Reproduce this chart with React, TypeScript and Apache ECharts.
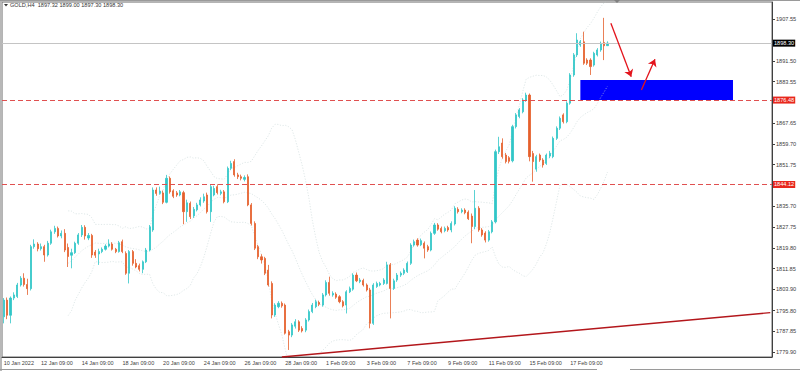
import React, { useEffect, useRef } from 'react';
import * as echarts from 'echarts';

// [open, high, low, close] per H4 bar
const ohlc: number[][] = [
  [1793.4, 1800.6, 1790.9, 1799.8], [1799.8, 1800.8, 1792.5, 1794.0], [1794.0, 1801.2, 1790.9, 1800.6], [1800.6, 1802.8, 1799.8, 1801.8],
  [1801.2, 1806.4, 1800.6, 1805.6], [1805.6, 1809.0, 1805.0, 1808.2], [1808.2, 1810.1, 1805.0, 1805.8], [1805.8, 1808.0, 1801.8, 1804.2],
  [1804.2, 1821.0, 1803.5, 1820.3], [1820.3, 1823.1, 1819.5, 1821.3], [1821.3, 1822.0, 1818.5, 1819.5], [1819.5, 1821.5, 1818.8, 1820.3],
  [1820.3, 1821.0, 1814.5, 1817.1], [1817.1, 1822.5, 1816.5, 1821.6], [1821.6, 1826.8, 1821.0, 1826.0], [1826.0, 1828.3, 1825.2, 1827.3],
  [1827.3, 1828.0, 1823.8, 1824.4], [1824.4, 1826.5, 1823.5, 1825.4], [1825.4, 1827.0, 1818.2, 1819.0], [1820.0, 1821.5, 1812.5, 1816.5],
  [1817.0, 1819.5, 1812.0, 1818.0], [1818.0, 1822.2, 1817.5, 1821.6], [1821.6, 1825.5, 1821.0, 1824.8], [1824.8, 1828.6, 1824.0, 1827.7],
  [1827.7, 1828.5, 1823.0, 1824.4], [1823.6, 1825.5, 1822.8, 1824.6], [1824.6, 1825.2, 1816.0, 1817.1], [1818.2, 1819.0, 1816.0, 1817.0],
  [1817.5, 1819.5, 1813.3, 1818.4], [1818.4, 1820.0, 1817.8, 1819.3], [1819.3, 1821.2, 1818.8, 1820.5], [1820.5, 1823.1, 1820.0, 1821.3],
  [1821.3, 1822.0, 1818.8, 1819.3], [1819.3, 1819.8, 1817.8, 1818.4], [1818.4, 1822.5, 1818.0, 1821.8], [1822.2, 1823.0, 1817.8, 1818.4],
  [1817.7, 1818.5, 1809.5, 1810.1], [1810.1, 1819.0, 1806.2, 1818.4], [1818.4, 1819.0, 1813.0, 1813.9], [1813.9, 1815.5, 1812.0, 1812.5],
  [1813.0, 1813.8, 1810.8, 1811.6], [1811.6, 1815.0, 1810.1, 1814.5], [1814.5, 1819.8, 1814.0, 1819.0], [1819.0, 1828.6, 1818.5, 1827.9],
  [1826.7, 1843.0, 1826.0, 1842.0], [1842.0, 1843.0, 1839.8, 1840.7], [1840.7, 1843.3, 1840.2, 1841.6], [1840.9, 1841.8, 1836.6, 1837.3],
  [1837.3, 1847.8, 1836.9, 1846.5], [1846.5, 1847.2, 1840.6, 1841.3], [1841.7, 1842.3, 1838.9, 1839.6], [1840.9, 1841.6, 1839.4, 1840.1],
  [1840.1, 1842.0, 1839.6, 1841.3], [1841.0, 1841.7, 1828.9, 1833.7], [1833.7, 1838.3, 1829.8, 1837.1], [1836.9, 1837.6, 1830.9, 1831.8],
  [1832.1, 1835.5, 1831.3, 1834.6], [1834.4, 1837.1, 1833.8, 1836.3], [1836.3, 1839.2, 1835.7, 1838.2], [1837.8, 1840.6, 1837.1, 1839.4],
  [1840.1, 1841.0, 1833.0, 1833.7], [1833.7, 1844.0, 1829.8, 1843.3], [1840.1, 1843.6, 1839.6, 1842.6], [1843.3, 1844.2, 1840.3, 1841.0],
  [1840.7, 1842.1, 1840.0, 1841.3], [1841.3, 1842.0, 1836.9, 1837.5], [1837.5, 1851.0, 1837.0, 1850.3], [1850.3, 1853.2, 1849.6, 1852.2],
  [1852.9, 1853.8, 1847.1, 1847.8], [1847.8, 1848.6, 1846.2, 1847.1], [1847.1, 1847.9, 1845.7, 1846.5], [1846.1, 1847.6, 1845.3, 1846.8],
  [1847.1, 1848.0, 1835.8, 1836.3], [1836.3, 1837.0, 1828.4, 1829.2], [1829.2, 1830.0, 1819.0, 1819.7], [1820.3, 1821.0, 1815.5, 1816.4],
  [1816.4, 1817.4, 1813.8, 1815.2], [1815.8, 1816.4, 1809.4, 1810.1], [1811.3, 1813.3, 1805.0, 1805.6], [1806.2, 1807.0, 1792.8, 1794.1],
  [1794.1, 1798.6, 1793.4, 1797.9], [1797.3, 1799.4, 1796.7, 1798.6], [1798.6, 1799.3, 1796.9, 1797.6], [1797.9, 1798.5, 1786.6, 1787.1],
  [1787.7, 1788.4, 1780.7, 1786.4], [1786.4, 1791.0, 1785.6, 1790.3], [1789.8, 1792.5, 1788.9, 1791.5], [1791.5, 1792.1, 1787.6, 1788.3],
  [1788.9, 1789.8, 1787.4, 1788.0], [1788.3, 1792.9, 1787.5, 1792.2], [1792.2, 1796.2, 1791.6, 1795.4], [1795.4, 1798.7, 1794.8, 1797.9],
  [1797.3, 1800.0, 1796.7, 1799.2], [1798.9, 1799.6, 1797.5, 1798.2], [1797.9, 1802.5, 1797.3, 1801.8], [1801.8, 1807.4, 1801.2, 1806.6],
  [1806.6, 1808.8, 1801.5, 1802.4], [1801.8, 1803.2, 1801.1, 1802.4], [1802.1, 1802.8, 1800.3, 1800.9], [1801.1, 1801.7, 1798.6, 1799.2],
  [1799.2, 1799.8, 1797.0, 1797.6], [1797.9, 1803.6, 1794.7, 1803.0], [1803.0, 1805.0, 1802.5, 1804.3], [1804.0, 1810.1, 1803.4, 1809.4],
  [1809.4, 1810.4, 1806.7, 1807.2], [1806.9, 1808.3, 1806.3, 1807.5], [1807.3, 1808.0, 1805.0, 1805.6], [1805.6, 1806.2, 1803.1, 1803.7],
  [1803.7, 1804.5, 1789.0, 1790.9], [1790.9, 1806.3, 1790.3, 1805.6], [1805.0, 1806.9, 1804.5, 1806.2], [1805.6, 1806.8, 1805.1, 1806.2],
  [1806.2, 1808.2, 1805.6, 1807.5], [1806.2, 1814.5, 1805.8, 1813.3], [1813.3, 1814.0, 1792.8, 1804.3], [1804.3, 1808.0, 1803.7, 1807.2],
  [1807.5, 1810.2, 1806.8, 1809.4], [1809.4, 1810.8, 1808.7, 1810.1], [1810.1, 1812.0, 1809.4, 1811.3], [1810.7, 1814.6, 1810.2, 1813.9],
  [1813.9, 1821.6, 1813.3, 1820.9], [1820.9, 1823.0, 1820.3, 1822.2], [1822.8, 1823.5, 1820.3, 1820.9], [1821.0, 1823.4, 1820.5, 1822.6],
  [1821.6, 1822.3, 1815.8, 1819.7], [1820.3, 1821.0, 1818.3, 1819.0], [1819.0, 1826.1, 1818.5, 1825.4], [1825.4, 1829.4, 1824.8, 1828.6],
  [1828.6, 1829.3, 1826.4, 1827.0], [1827.3, 1828.0, 1825.4, 1826.0], [1826.4, 1828.0, 1825.8, 1827.3], [1827.6, 1828.3, 1826.0, 1826.7],
  [1826.7, 1830.0, 1825.8, 1829.2], [1829.0, 1835.8, 1828.4, 1835.0], [1834.6, 1835.4, 1833.0, 1833.7], [1833.7, 1835.0, 1833.1, 1834.3],
  [1834.3, 1835.0, 1832.7, 1833.3], [1833.5, 1834.2, 1830.5, 1831.0], [1832.0, 1833.0, 1821.6, 1828.0], [1828.0, 1842.0, 1827.0, 1835.0],
  [1835.0, 1835.8, 1826.0, 1826.7], [1826.7, 1827.4, 1824.1, 1824.8], [1825.5, 1826.2, 1821.9, 1822.8], [1822.8, 1826.7, 1822.2, 1826.0],
  [1826.0, 1830.5, 1825.4, 1829.8], [1829.8, 1857.5, 1829.2, 1856.7], [1856.7, 1862.4, 1855.8, 1858.6], [1860.0, 1861.8, 1854.0, 1854.8],
  [1855.4, 1856.2, 1852.2, 1852.9], [1854.4, 1855.0, 1852.2, 1853.0], [1853.2, 1867.0, 1852.6, 1866.3], [1866.3, 1871.5, 1865.6, 1870.8],
  [1870.2, 1873.4, 1869.5, 1872.7], [1872.0, 1877.2, 1871.4, 1876.5], [1876.5, 1879.3, 1875.8, 1878.4], [1878.4, 1879.0, 1853.0, 1854.8],
  [1856.0, 1857.0, 1845.2, 1852.9], [1850.0, 1855.5, 1849.0, 1854.8], [1855.4, 1856.0, 1852.8, 1853.5], [1853.5, 1854.2, 1850.6, 1851.6],
  [1852.2, 1856.0, 1851.6, 1855.4], [1855.0, 1857.0, 1854.2, 1856.1], [1854.8, 1862.5, 1854.2, 1861.8], [1861.8, 1866.4, 1861.2, 1865.7],
  [1865.7, 1870.2, 1865.0, 1869.5], [1870.8, 1871.4, 1867.5, 1868.2], [1868.2, 1876.0, 1867.6, 1875.3], [1875.3, 1886.8, 1874.7, 1886.1],
  [1886.1, 1894.5, 1885.4, 1893.8], [1893.8, 1902.1, 1893.0, 1899.5], [1897.6, 1899.5, 1896.9, 1898.8], [1898.8, 1902.7, 1890.0, 1890.6],
  [1891.8, 1892.5, 1889.9, 1890.6], [1891.8, 1892.5, 1886.1, 1889.3], [1889.9, 1895.0, 1889.3, 1894.4], [1893.8, 1896.4, 1893.2, 1895.7],
  [1895.7, 1898.9, 1895.0, 1898.2], [1898.5, 1908.0, 1891.8, 1897.3], [1897.32, 1899.0, 1897.3, 1898.3],
];

const slotCount = 227;
const categories = Array.from({ length: slotCount }, (_, i) => String(i));
const tickIndices = [0, 11, 23, 35, 47, 59, 71, 83, 95, 107, 119, 131, 143, 155, 167];
const tickLabels = ['10 Jan 2022', '12 Jan 09:00', '14 Jan 09:00', '18 Jan 09:00', '20 Jan 09:00', '24 Jan 09:00',
  '26 Jan 09:00', '28 Jan 09:00', '1 Feb 09:00', '3 Feb 09:00', '7 Feb 09:00', '9 Feb 09:00', '11 Feb 09:00',
  '15 Feb 09:00', '17 Feb 09:00'];
// scale labels not hidden behind the coloured price boxes
const priceLabels = [1907.55, 1891.5, 1883.55, 1867.65, 1859.7, 1851.75, 1835.7, 1827.75,
  1819.8, 1811.85, 1803.9, 1795.8, 1787.85, 1779.9];
const levelPrices = [1876.48, 1844.12];
const bidPrice = 1898.3;
const zoneStart = [170, 1884.2];
const zoneEnd = [215, 1876.48];
const arrowDown = [[179, 1905.9], [185, 1885.4]];
const arrowUp = [[188, 1880.3], [192, 1892.1]];
const trendLine = [[82, 1778.0], [226, 1795.0]];
const header = 'GOLD,H4  1897.32 1899.00 1897.30 1898.30';

const UP = '#31c6c8';
const DOWN = '#e5602c';
const FONT = 'Liberation Sans';

function bollinger(period: number, dev: number) {
  const closes = ohlc.map((r) => r[3]);
  const mid: (number | null)[] = [], up: (number | null)[] = [], lo: (number | null)[] = [];
  closes.forEach((_, i) => {
    if (i < period - 1) { mid.push(null); up.push(null); lo.push(null); return; }
    const w = closes.slice(i - period + 1, i + 1);
    const m = w.reduce((a, b) => a + b, 0) / period;
    const sd = Math.sqrt(w.reduce((a, b) => a + (b - m) * (b - m), 0) / period);
    mid.push(+m.toFixed(2)); up.push(+(m + dev * sd).toFixed(2)); lo.push(+(m - dev * sd).toFixed(2));
  });
  return { mid, up, lo };
}

export default function App() {
  const ref = useRef<HTMLDivElement>(null);
  useEffect(() => {
    if (!ref.current) return;
    const chart = echarts.init(ref.current, undefined, { renderer: 'svg' });
    const bb = bollinger(20, 2);
    const bbLine = (name: string, data: (number | null)[]) => ({
      name, type: 'line', data, symbol: 'none', silent: true, connectNulls: false,
      lineStyle: { color: '#c9d6d9', width: 0.6, type: [1.2, 1.6] }, z: 1,
    });
    const tickSet = new Set(tickIndices);
    chart.setOption({
      animation: false,
      backgroundColor: '#ffffff',
      grid: { left: 2, right: 28, top: 2, bottom: 14, show: true, borderColor: '#6a6a6a', borderWidth: 1 },
      xAxis: {
        type: 'category', data: categories, boundaryGap: true,
        axisLine: { lineStyle: { color: '#404040', width: 1 } },
        axisTick: { alignWithLabel: true, length: 3, interval: (i: number) => tickSet.has(i), lineStyle: { color: '#404040' } },
        axisLabel: {
          interval: (i: number) => tickSet.has(i), align: 'left', margin: 3, fontSize: 5.5, fontFamily: FONT, color: '#404040',
          formatter: (v: string) => { const k = tickIndices.indexOf(Number(v)); return k >= 0 ? tickLabels[k] : ''; },
        },
        splitLine: { show: false },
      },
      yAxis: {
        type: 'value', position: 'right', min: 1778.0, max: 1914.07, scale: true,
        axisLine: { show: true, lineStyle: { color: '#404040' } },
        axisTick: { show: true, length: 3, customValues: priceLabels, lineStyle: { color: '#404040' } },
        axisLabel: { customValues: priceLabels, margin: 4, fontSize: 5.6, fontFamily: FONT, color: '#404040', formatter: (v: number) => v.toFixed(2) },
        splitLine: { show: false },
      },
      series: [
        bbLine('BB upper', bb.up), bbLine('BB middle', bb.mid), bbLine('BB lower', bb.lo),
        {
          name: 'GOLD,H4', type: 'candlestick', barWidth: 1.6, z: 3,
          data: ohlc.map((r) => [r[0], r[3], r[2], r[1]]),
          itemStyle: { color: UP, color0: DOWN, borderColor: UP, borderColor0: DOWN, borderWidth: 0.8 },
          markArea: {
            silent: true, itemStyle: { color: '#0000ff', opacity: 1 },
            data: [[{ coord: zoneStart }, { coord: zoneEnd }]],
          },
        },
        {
          type: 'line', data: [], z: 4,
          markLine: {
            silent: true, symbol: ['none', 'none'], animation: false,
            data: [
              ...levelPrices.map((p) => ({
                yAxis: p,
                lineStyle: { color: '#e05050', width: 1, type: [5, 3] },
                label: { show: true, position: 'end', distance: 1, formatter: p.toFixed(2), color: '#fff', backgroundColor: '#e8271d', padding: [1, 1, 0, 1], fontSize: 5.6, fontFamily: FONT },
              })),
              {
                yAxis: bidPrice,
                lineStyle: { color: '#c4c4c4', width: 1, type: 'solid' },
                label: { show: true, position: 'end', distance: 1, formatter: bidPrice.toFixed(2), color: '#fff', backgroundColor: '#000', padding: [1, 1, 0, 1], fontSize: 5.6, fontFamily: FONT },
              },
              [{ coord: trendLine[0], lineStyle: { color: '#b3161b', width: 1.4, type: 'solid' }, label: { show: false } }, { coord: trendLine[1] }],
            ],
          },
        },
        {
          type: 'line', data: [], z: 5,
          markLine: {
            silent: true, symbol: ['none', 'arrow'], symbolSize: 7,
            lineStyle: { color: '#e3141c', width: 1.3, type: 'solid' }, label: { show: false },
            data: [
              [{ coord: arrowDown[0] }, { coord: arrowDown[1] }],
              [{ coord: arrowUp[0] }, { coord: arrowUp[1] }],
            ],
          },
        },
      ],
      graphic: [
        { type: 'rect', left: 0, top: 0, shape: { width: 2, height: 371 }, style: { fill: '#b8b8b8' }, silent: true },
        { type: 'line', shape: { x1: 0, y1: 0.5, x2: 800, y2: 0.5 }, style: { stroke: '#9a9a9a', lineWidth: 1 }, silent: true },
        { type: 'line', shape: { x1: 0, y1: 369.5, x2: 597, y2: 369.5 }, style: { stroke: '#9a9a9a', lineWidth: 1 }, silent: true },
        { type: 'line', shape: { x1: 630, y1: 369.5, x2: 800, y2: 369.5 }, style: { stroke: '#9a9a9a', lineWidth: 1 }, silent: true },
        { type: 'polygon', shape: { points: [[4, 4], [8, 4], [6, 6.5]] }, style: { fill: '#333' }, silent: true },
        { type: 'polygon', shape: { points: [[614, 0], [620, 0], [617, 3]] }, style: { fill: '#808080' }, silent: true },
        { type: 'text', x: 10, y: 2, style: { text: header, fontSize: 5.6, fontFamily: FONT, fill: '#333' }, silent: true },
      ],
    });
    return () => chart.dispose();
  }, []);
  return <div ref={ref} style={{ position: 'fixed', left: 0, top: 0, width: 800, height: 371 }} />;
}
